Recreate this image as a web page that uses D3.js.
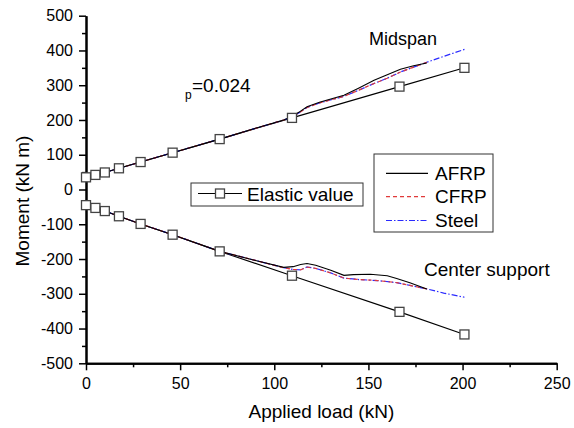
<!DOCTYPE html>
<html>
<head>
<meta charset="utf-8">
<script src="https://cdn.jsdelivr.net/npm/d3@7"></script>
<style>
  body { margin: 0; background: #fff; }
  text { font-family: "Liberation Sans", Arial, sans-serif; fill: #000; }
</style>
</head>
<body>
<div id="chart"></div>
<script>
// Elastic values (markers)
const elasticLoad = [0, 5, 10, 17.5, 29, 46, 71, 109.4, 166.5, 201];
const elasticMid = [35, 42, 49, 61, 79, 106, 145, 206, 296, 350];
const elasticSup = [-45, -53, -62, -77, -99, -130, -178, -248, -352, -417];

// Midspan FE results
const midLoad = [0, 5, 10, 17.5, 29, 46, 71, 90, 105, 109.4, 113, 117.4, 124, 137, 145, 153, 160, 167, 174, 181];
const afrpMid = [35, 42, 49, 61, 79, 106, 145, 176, 200, 210, 222, 238, 251, 271, 292, 314, 330, 346, 356, 364];
const cfrpMid = [35, 42, 49, 61, 79, 106, 145, 176, 200, 209, 220, 236, 249, 268, 286, 305, 320, 338, 352, 366];
const steelMidLoad = [0, 5, 10, 17.5, 29, 46, 71, 90, 105, 109.4, 113, 117.4, 124, 137, 145, 153, 160, 167, 174, 181, 190, 201];
const steelMid = [35, 42, 49, 61, 79, 106, 145, 176, 200, 209, 220, 236, 249, 268, 286, 305, 320, 338, 352, 366, 383, 403];

// Center support FE results
const afrpSupLoad = [0, 5, 10, 17.5, 29, 46, 71, 90, 105, 110, 114, 117.4, 122, 130, 137, 142, 151, 160, 165, 172, 181];
const afrpSup = [-45, -53, -62, -77, -99, -130, -178, -204, -224, -222, -216, -213, -218, -232, -247, -245, -244, -248, -256, -268, -286];
const cfrpSupLoad = [0, 5, 10, 17.5, 29, 46, 71, 90, 105, 110, 114, 117.4, 122, 130, 137, 145, 155, 165, 172, 181];
const cfrpSup = [-45, -53, -62, -77, -99, -130, -178, -204, -225, -230, -231, -223, -227, -240, -255, -259, -262, -268, -276, -286];
const steelSupLoad = [0, 5, 10, 17.5, 29, 46, 71, 90, 105, 110, 114, 117.4, 122, 130, 137, 145, 155, 165, 172, 181, 190, 201];
const steelSup = [-45, -53, -62, -77, -99, -130, -178, -204, -225, -230, -231, -223, -227, -240, -255, -259, -262, -268, -276, -286, -298, -310];

const xTicks = [0, 50, 100, 150, 200, 250];
const yTicks = [-500, -400, -300, -200, -100, 0, 100, 200, 300, 400, 500];

const W = 574, H = 428;
const svg = d3.select("#chart").append("svg")
  .attr("width", W).attr("height", H);

const x = d3.scaleLinear().domain([0, 250]).range([86, 556.7]);
const y = d3.scaleLinear().domain([-500, 500]).range([363.3, 15.7]);

const zip = (xs, ys) => xs.map((v, i) => [v, ys[i]]);
const line = d3.line().x(d => x(d[0])).y(d => y(d[1]));

// axes (major + minor ticks, outward)
const fmt = d => String(d);
svg.append("g").attr("transform", `translate(0,${y(-500)})`)
  .call(d3.axisBottom(x).tickValues(d3.range(25, 250, 50)).tickSize(4).tickSizeOuter(0).tickFormat(""));
svg.append("g").attr("transform", `translate(0,${y(-500)})`)
  .call(d3.axisBottom(x).tickValues(xTicks).tickSize(7).tickSizeOuter(0).tickPadding(7).tickFormat(fmt));
svg.append("g").attr("transform", `translate(${x(0)},0)`)
  .call(d3.axisLeft(y).tickValues(d3.range(-450, 500, 100)).tickSize(4).tickSizeOuter(0).tickFormat(""));
svg.append("g").attr("transform", `translate(${x(0)},0)`)
  .call(d3.axisLeft(y).tickValues(yTicks).tickSize(7).tickSizeOuter(0).tickPadding(6).tickFormat(fmt));

svg.selectAll(".domain").attr("stroke", "#000").attr("stroke-width", 2);
svg.selectAll(".tick line").attr("stroke", "#000").attr("stroke-width", 1.5);
svg.selectAll(".tick text").style("font-size", "16px")
  .style("font-family", "'Liberation Sans', Arial, sans-serif").attr("fill", "#000");

// axis titles
svg.append("text").attr("x", x(125)).attr("y", 418)
  .attr("text-anchor", "middle").style("font-size", "19px").text("Applied load (kN)");
svg.append("text").attr("transform", "rotate(-90)")
  .attr("x", -201).attr("y", 29)
  .attr("text-anchor", "middle").style("font-size", "19px").text("Moment (kN m)");

// series
const series = [
  {load: elasticLoad, val: elasticMid, color: "#000", dash: null, w: 1.1},
  {load: elasticLoad, val: elasticSup, color: "#000", dash: null, w: 1.1},
  {load: steelMidLoad, val: steelMid, color: "#2a2aff", dash: "6,2,1.5,2", w: 1.2},
  {load: steelSupLoad, val: steelSup, color: "#2a2aff", dash: "6,2,1.5,2", w: 1.2},
  {load: midLoad, val: cfrpMid, color: "#e03a3a", dash: "4,3", w: 1.2},
  {load: cfrpSupLoad, val: cfrpSup, color: "#e03a3a", dash: "4,3", w: 1.2},
  {load: midLoad, val: afrpMid, color: "#000", dash: null, w: 1.1},
  {load: afrpSupLoad, val: afrpSup, color: "#000", dash: null, w: 1.1}
];
series.forEach(s => {
  svg.append("path")
    .datum(zip(s.load, s.val))
    .attr("d", line)
    .attr("fill", "none")
    .attr("stroke", s.color)
    .attr("stroke-width", s.w)
    .attr("stroke-dasharray", s.dash);
});

// elastic markers
const markerPts = zip(elasticLoad, elasticMid).concat(zip(elasticLoad, elasticSup));
svg.selectAll("rect.mk")
  .data(markerPts)
  .enter()
  .append("rect")
  .attr("class", "mk")
  .attr("x", d => x(d[0]) - 4.5)
  .attr("y", d => y(d[1]) - 4.5)
  .attr("width", 9).attr("height", 9)
  .attr("fill", "#fff")
  .attr("stroke", "#444")
  .attr("stroke-width", 1.3);

// annotations
svg.append("text").attr("x", 369).attr("y", 45).style("font-size", "18px").text("Midspan");
svg.append("text").attr("x", 424).attr("y", 276).style("font-size", "19px").text("Center support");
svg.append("text").attr("x", 185).attr("y", 99).attr("fill", "#000").style("fill", "#000")
  .style("font-size", "12px").text("p");
svg.append("text").attr("x", 192).attr("y", 92).style("font-size", "19px").text("=0.024");

// legend 1: elastic value
svg.append("rect").attr("x", 191).attr("y", 183).attr("width", 172).attr("height", 23)
  .attr("fill", "#fff").attr("stroke", "#333").attr("stroke-width", 1);
svg.append("line").attr("x1", 198).attr("x2", 242).attr("y1", 193.5).attr("y2", 193.5)
  .attr("stroke", "#000").attr("stroke-width", 1.1);
svg.append("rect").attr("x", 215.5).attr("y", 189).attr("width", 9).attr("height", 9)
  .attr("fill", "#fff").attr("stroke", "#444").attr("stroke-width", 1.3);
svg.append("text").attr("x", 247).attr("y", 201).style("font-size", "19px").text("Elastic value");

// legend 2: FE series
const legNames = ["AFRP", "CFRP", "Steel"];
const legColors = ["#000", "#e03a3a", "#2a2aff"];
const legDash = [null, "4,3", "6,2,1.5,2"];
const legY = [173.3, 196.7, 220.5];
svg.append("rect").attr("x", 374).attr("y", 154).attr("width", 119).attr("height", 78)
  .attr("fill", "#fff").attr("stroke", "#333").attr("stroke-width", 1);
legNames.forEach((n, i) => {
  svg.append("line").attr("x1", 386).attr("x2", 428).attr("y1", legY[i]).attr("y2", legY[i])
    .attr("stroke", legColors[i]).attr("stroke-width", 1.2).attr("stroke-dasharray", legDash[i]);
  svg.append("text").attr("x", 435).attr("y", legY[i] + 6.5).style("font-size", "19px").text(n);
});
</script>
</body>
</html>
